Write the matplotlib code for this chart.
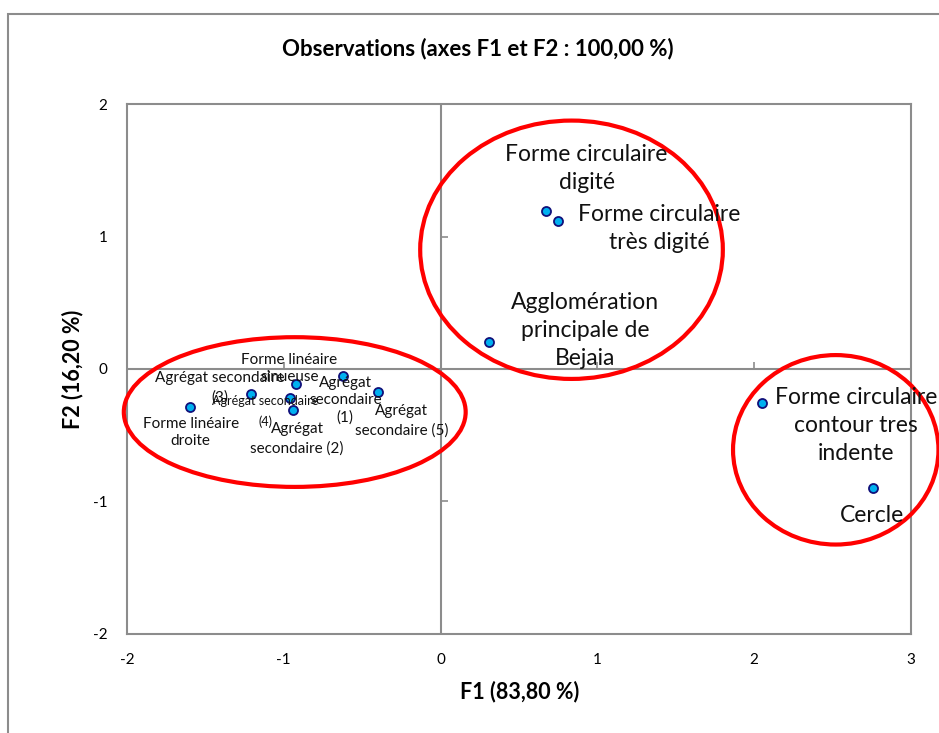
import matplotlib
matplotlib.use("Agg")
import matplotlib.pyplot as plt
from matplotlib.patches import Ellipse, Rectangle
from matplotlib import markers

plt.rcParams['font.family'] = ['Lato', 'DejaVu Sans']
plt.rcParams['axes.unicode_minus'] = False

# observations (F1, F2)
labels = [
    "Forme circulaire\ndigité",
    "Forme circulaire\ntrès digité",
    "Agglomération\nprincipale de\nBejaia",
    "Forme circulaire\ncontour tres\nindente",
    "Cercle",
    "Forme linéaire\ndroite",
    "Agrégat secondaire\n(3)",
    "Forme linéaire\nsinueuse",
    "Agrégat secondaire\n(4)",
    "Agrégat\nsecondaire (2)",
    "Agrégat\nsecondaire\n(1)",
    "Agrégat\nsecondaire (5)",
]
f1 = [0.67, 0.75, 0.31, 2.05, 2.76, -1.60, -1.21, -0.92, -0.96, -0.94, -0.62, -0.40]
f2 = [1.19, 1.12, 0.20, -0.26, -0.90, -0.29, -0.19, -0.11, -0.22, -0.31, -0.05, -0.17]

# label offsets in pixels, font sizes, line spacing
offsets = [(41, 43), (101, -8), (96, 12), (94, -22), (-1, -27), (1, -25),
           (-31, 6), (-7, 15), (-25, -13), (4, -29), (2, -25), (24, -29)]
sizes = [16.5, 16.5, 16.5, 16.5, 16.5, 11, 11, 11, 9, 11, 11, 11]
spacing = [1.4, 1.4, 1.4, 1.4, 1.4, 1.3, 1.5, 1.3, 1.8, 1.5, 1.3, 1.5]

# groupings (center x, center y, width, height) in data units
groups = [(0.835, 0.90, 1.93, 1.95), (-0.93, -0.325, 2.18, 1.13), (2.52, -0.61, 1.31, 1.43)]

xticks = [-2, -1, 0, 1, 2, 3]
yticks = [-2, -1, 0, 1, 2]

fig = plt.figure(figsize=(9.39, 7.33), dpi=100)
ax = fig.add_axes([0.1352, 0.1351, 0.835, 0.723])

fig.patches.append(Rectangle((8 / 939, -0.05), 1.0, 1 - 14 / 733 + 0.05, transform=fig.transFigure,
                             fill=False, edgecolor='#8c8c8c', linewidth=1.5))

ax.set_xlim(-2, 3)
ax.set_ylim(-2, 2)
ax.set_xticks(xticks)
ax.set_yticks(yticks)
ax.tick_params(length=0, labelsize=11, pad=14)
for s in ax.spines.values():
    s.set_color('#8c8c8c')
    s.set_linewidth(1.5)

ax.axhline(0, color='#8c8c8c', lw=1.5, zorder=1)
ax.axvline(0, color='#8c8c8c', lw=1.5, zorder=1)
ax.plot([t for t in xticks if t != 0], [0] * 5, ls='none', marker=markers.TICKUP,
        ms=5, mec='#8c8c8c', mew=1.2, zorder=1)
ax.plot([0] * 4, [t for t in yticks if t != 0], ls='none', marker=markers.TICKRIGHT,
        ms=5, mec='#8c8c8c', mew=1.2, zorder=1)

ax.plot(f1, f2, ls='none', marker='o', ms=6.5, mfc='#00b0f0', mec='#10107a', mew=1.3, zorder=4)

for lab, x, y, off, fs, ls in zip(labels, f1, f2, offsets, sizes, spacing):
    ax.annotate(lab, (x, y), xytext=off, textcoords='offset pixels', ha='center', va='center',
                fontsize=fs, linespacing=ls, color='#111111', zorder=5, annotation_clip=False)

for cx, cy, w, h in groups:
    ax.add_patch(Ellipse((cx, cy), w, h, fill=False, edgecolor='#ff0000', linewidth=3,
                         clip_on=False, zorder=3))

fig.text(0.509, 0.9345, "Observations (axes F1 et F2 : 100,00 %)", ha='center', va='center',
         fontsize=16, fontweight='bold')
fig.text(0.553, 0.056, "F1 (83,80 %)", ha='center', va='center', fontsize=15.5, fontweight='bold')
fig.text(0.0767, 0.4966, "F2 (16,20 %)", ha='center', va='center', rotation=90,
         fontsize=15.5, fontweight='bold')

fig.savefig("out.png", dpi=100)
